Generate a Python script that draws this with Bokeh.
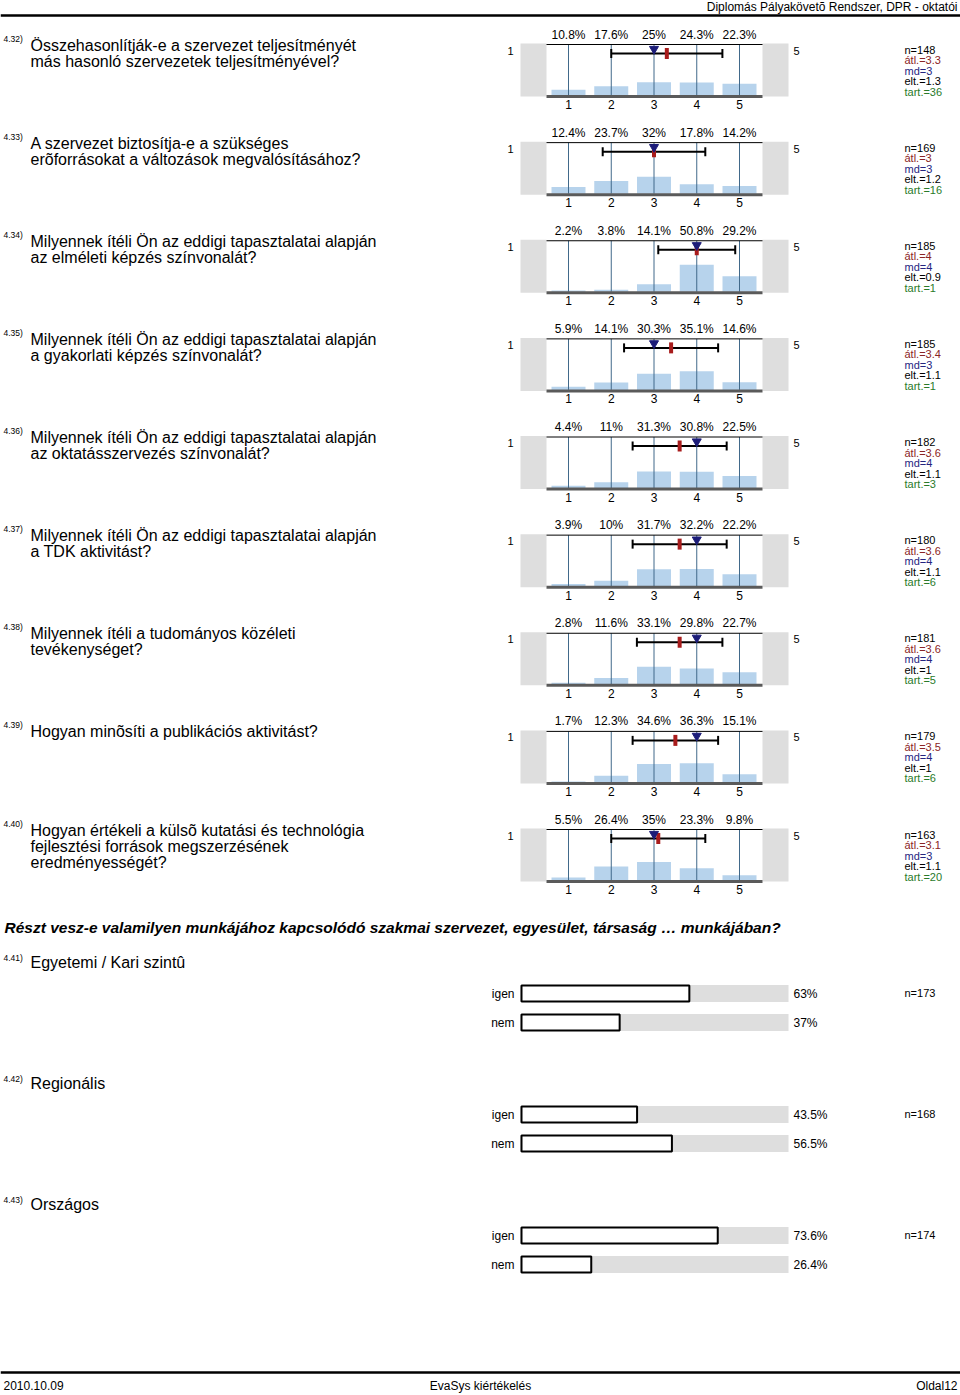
from bokeh.plotting import figure
from bokeh.models import Range1d, ColumnDataSource
from bokeh.core.properties import value
from bokeh.embed import file_html
from bokeh.resources import INLINE

# ---------------- data ----------------
header_text = "Diplomás Pályakövetõ Rendszer, DPR - oktatói"
footer_left = "2010.10.09"
footer_mid = "EvaSys kiértékelés"
footer_right = "Oldal12"

question_ids = ["4.32)", "4.33)", "4.34)", "4.35)", "4.36)", "4.37)", "4.38)", "4.39)", "4.40)"]
question_texts = [
    ["Összehasonlítják-e a szervezet teljesítményét", "más hasonló szervezetek teljesítményével?"],
    ["A szervezet biztosítja-e a szükséges", "erõforrásokat a változások megvalósításához?"],
    ["Milyennek ítéli Ön az eddigi tapasztalatai alapján", "az elméleti képzés színvonalát?"],
    ["Milyennek ítéli Ön az eddigi tapasztalatai alapján", "a gyakorlati képzés színvonalát?"],
    ["Milyennek ítéli Ön az eddigi tapasztalatai alapján", "az oktatásszervezés színvonalát?"],
    ["Milyennek ítéli Ön az eddigi tapasztalatai alapján", "a TDK aktivitást?"],
    ["Milyennek ítéli a tudományos közéleti", "tevékenységet?"],
    ["Hogyan minõsíti a publikációs aktivitást?"],
    ["Hogyan értékeli a külsõ kutatási és technológia", "fejlesztési források megszerzésének", "eredményességét?"],
]
scale_points = [1, 2, 3, 4, 5]
pcts = [
    [10.8, 17.6, 25, 24.3, 22.3],
    [12.4, 23.7, 32, 17.8, 14.2],
    [2.2, 3.8, 14.1, 50.8, 29.2],
    [5.9, 14.1, 30.3, 35.1, 14.6],
    [4.4, 11, 31.3, 30.8, 22.5],
    [3.9, 10, 31.7, 32.2, 22.2],
    [2.8, 11.6, 33.1, 29.8, 22.7],
    [1.7, 12.3, 34.6, 36.3, 15.1],
    [5.5, 26.4, 35, 23.3, 9.8],
]
n_vals = [148, 169, 185, 185, 182, 180, 181, 179, 163]
mean_vals = [3.3, 3, 4, 3.4, 3.6, 3.6, 3.6, 3.5, 3.1]
median_vals = [3, 3, 4, 3, 4, 4, 4, 4, 3]
sd_vals = [1.3, 1.2, 0.9, 1.1, 1.1, 1.1, 1, 1, 1.1]
abst_vals = [36, 16, 1, 1, 3, 6, 5, 6, 20]

section_title = "Részt vesz-e valamilyen munkájához kapcsolódó szakmai szervezet, egyesület, társaság … munkájában?"
yn_ids = ["4.41)", "4.42)", "4.43)"]
yn_titles = ["Egyetemi / Kari szintû", "Regionális", "Országos"]
yn_cats = ["igen", "nem"]
yn_pcts = [[63, 37], [43.5, 56.5], [73.6, 26.4]]
yn_n = [173, 168, 174]

# ---------------- figure ----------------
FONT = value("Liberation Sans")
p = figure(width=960, height=1395, x_range=Range1d(0, 960), y_range=Range1d(1395, 0),
           output_backend="svg", toolbar_location=None, min_border=0,
           x_axis_type=None, y_axis_type=None)
p.grid.visible = False
p.outline_line_color = None
p.background_fill_color = "white"
p.border_fill_color = "white"


def add_text(xs, ys, texts, size, color="black", align="left", style="normal"):
    src = ColumnDataSource(dict(x=xs, y=ys, t=texts))
    p.text(x="x", y="y", text="t", source=src, text_font=FONT,
           text_font_size=f"{size}px", text_color=color, text_align=align,
           text_baseline="middle", text_font_style=style)


def xpos(v):
    return 568 + (v - 1) * 42.75


BLUE_BAR = "#b7d3ec"
GREY = "#dedede"
VLINE = "#41698a"
RED = "#a81c1c"
NAVY = "#1c1c78"

# header / footer
add_text([957], [6.5], [header_text], 12, align="right")
p.segment(x0=[0], y0=[15], x1=[960], y1=[15], line_color="black", line_width=2.5)
p.segment(x0=[0], y0=[1372], x1=[960], y1=[1372], line_color="black", line_width=2.5)
add_text([3], [1385], [footer_left], 12)
add_text([480], [1385], [footer_mid], 12, align="center")
add_text([957], [1385], [footer_right], 12, align="right")

# ---------------- rating blocks ----------------
step = 98.125
for i in range(len(question_ids)):
    y0 = 34 + i * step
    # question label
    add_text([3], [y0 + 4], [question_ids[i]], 8.5)
    lines = question_texts[i]
    add_text([30] * len(lines), [y0 + 10.5 + 16 * k for k in range(len(lines))], lines, 16)
    # grey side boxes
    p.quad(left=[520, 762], right=[546, 788], top=[y0 + 9, y0 + 9], bottom=[y0 + 62, y0 + 62],
           fill_color=GREY, line_color=None)
    add_text([510, 796], [y0 + 16, y0 + 16], ["1", "5"], 11, align="center")
    # bars
    xs = [xpos(v) for v in scale_points]
    p.quad(left=[x - 17 for x in xs], right=[x + 17 for x in xs],
           bottom=[y0 + 61] * 5, top=[y0 + 61 - v * 0.53 for v in pcts[i]],
           fill_color=BLUE_BAR, line_color=None)
    # vertical lines
    p.segment(x0=xs, y0=[y0 + 10] * 5, x1=xs, y1=[y0 + 61] * 5, line_color=VLINE, line_width=1)
    # top & bottom lines
    p.segment(x0=[546], y0=[y0 + 10], x1=[762], y1=[y0 + 10], line_color="black", line_width=1)
    p.segment(x0=[546], y0=[y0 + 62], x1=[762], y1=[y0 + 62], line_color="#5a5a5a", line_width=3)
    # percent labels and tick labels
    add_text(xs, [y0] * 5, [f"{v:g}%" for v in pcts[i]], 12, align="center")
    add_text(xs, [y0 + 70] * 5, [str(v) for v in scale_points], 12, align="center")
    # error bar
    lo = xpos(mean_vals[i] - sd_vals[i])
    hi = xpos(mean_vals[i] + sd_vals[i])
    ey = y0 + 19
    p.segment(x0=[lo, lo, hi], y0=[ey, ey - 4.5, ey - 4.5], x1=[hi, lo, hi], y1=[ey, ey + 4.5, ey + 4.5],
              line_color="black", line_width=2)
    # mean marker
    p.rect(x=[xpos(mean_vals[i])], y=[ey], width=4, height=11, fill_color=RED, line_color=None)
    # median marker
    p.scatter(x=[xpos(median_vals[i])], y=[ey - 4.5], marker="inverted_triangle", size=9,
              fill_color=NAVY, line_color=NAVY)
    # stats
    sx = 904
    add_text([sx], [y0 + 15], [f"n={n_vals[i]}"], 11)
    add_text([sx], [y0 + 25.5], [f"átl.={mean_vals[i]:g}"], 11, color="#8b2525")
    add_text([sx], [y0 + 36], [f"md={median_vals[i]:g}"], 11, color="#25257f")
    add_text([sx], [y0 + 46.5], [f"elt.={sd_vals[i]:g}"], 11)
    add_text([sx], [y0 + 57], [f"tart.={abst_vals[i]}"], 11, color="#2a7a2a")

# ---------------- yes / no blocks ----------------
add_text([4], [927], [section_title], 15.5, style="bold italic")
for j in range(len(yn_ids)):
    yb = 962 + j * 121
    add_text([3], [yb - 5], [yn_ids[j]], 8.5)
    add_text([30], [yb], [yn_titles[j]], 16)
    for k in range(len(yn_cats)):
        yy = yb + 31 + 29 * k
        v = yn_pcts[j][k]
        p.quad(left=[520], right=[788], top=[yy - 8.5], bottom=[yy + 8.5], fill_color=GREY, line_color=None)
        p.quad(left=[521], right=[520 + v * 2.68], top=[yy - 8], bottom=[yy + 8],
               fill_color="white", line_color="black", line_width=2)
        add_text([514], [yy], [yn_cats[k]], 12, align="right")
        add_text([793], [yy], [f"{v:g}%"], 12)
    add_text([904], [yb + 30], [f"n={yn_n[j]}"], 11)

open("out.html", "w").write(file_html(p, INLINE))
